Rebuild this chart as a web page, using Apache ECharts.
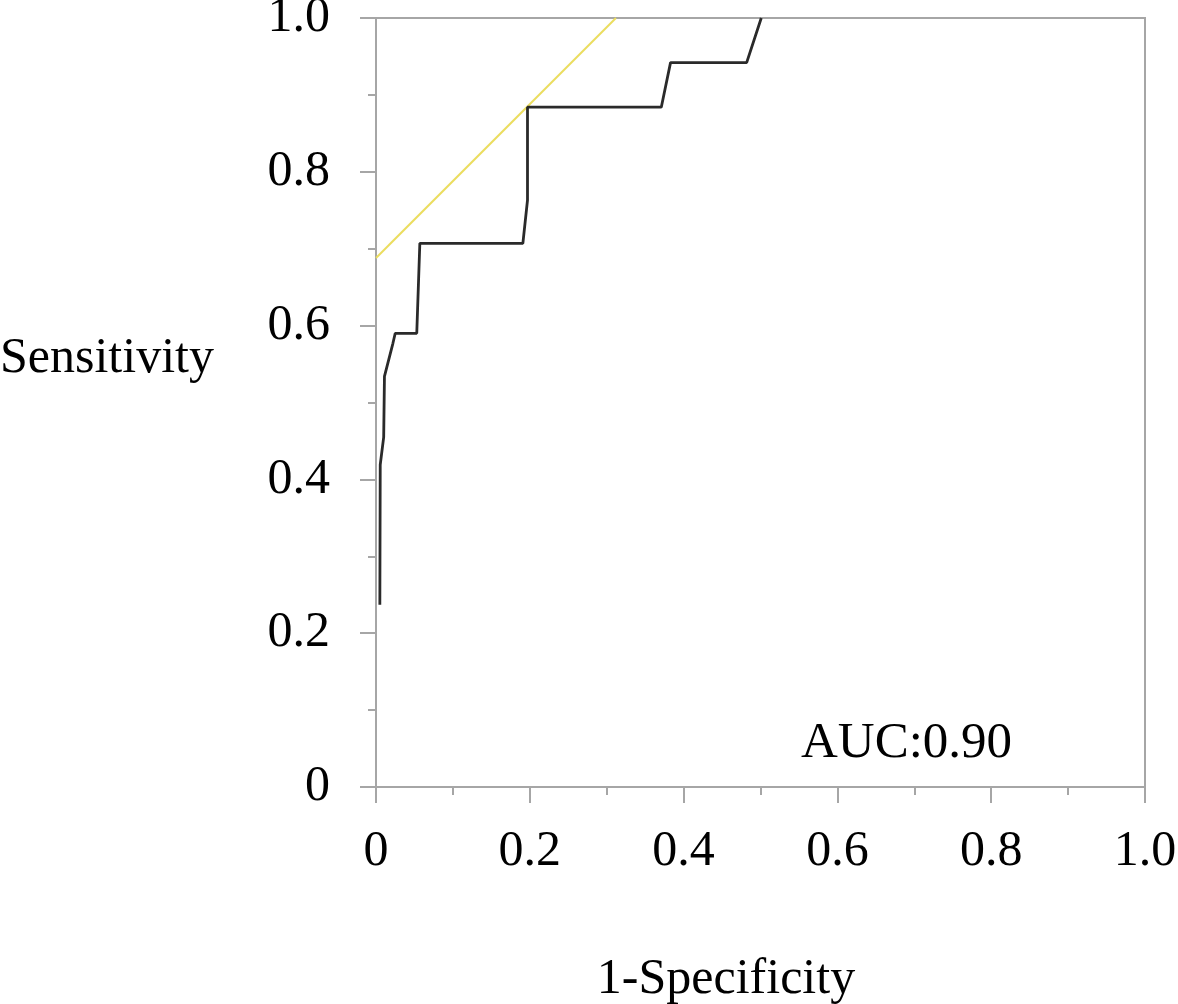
<!DOCTYPE html>
<html>
<head>
<meta charset="utf-8">
<script src="https://cdn.jsdelivr.net/npm/echarts@6/dist/echarts.min.js"></script>
<style>html,body{margin:0;padding:0;background:#fff;}#c{width:1178px;height:1004px;}</style>
</head>
<body>
<div id="c"></div>
<script>
// ROC curve points (1-Specificity, Sensitivity)
const rocX = [0.005, 0.0055, 0.010, 0.011, 0.022, 0.025, 0.053, 0.057, 0.191, 0.197, 0.197, 0.371, 0.383, 0.482, 0.501];
const rocY = [0.237, 0.419, 0.455, 0.534, 0.577, 0.590, 0.590, 0.707, 0.707, 0.763, 0.884, 0.884, 0.942, 0.942, 1.000];
// Tangent (Youden) reference line
const refX = [0, 0.312];
const refY = [0.688, 1.0];
const tickLabels = ['0', '0.2', '0.4', '0.6', '0.8', '1.0'];
const aucText = 'AUC:0.90';
const xName = '1-Specificity';
const yName = 'Sensitivity';

const font = '"Liberation Serif", "Times New Roman", serif';
const axisGrey = '#a6a6a6';
const fmt = v => tickLabels[Math.round(v * 5)] || '';

const chart = echarts.init(document.getElementById('c'), null, {renderer: 'canvas'});
const axisCommon = {
  type: 'value', min: 0, max: 1, interval: 0.2,
  axisLine: {show: true, lineStyle: {color: axisGrey, width: 2}},
  axisTick: {show: true, length: 16, lineStyle: {color: axisGrey, width: 2}},
  minorTick: {show: true, splitNumber: 2, length: 8, lineStyle: {color: axisGrey, width: 2}},
  splitLine: {show: false},
  axisLabel: {formatter: fmt, color: '#000', fontFamily: font, fontSize: 50}
};
chart.setOption({
  animation: false,
  backgroundColor: '#fff',
  grid: {left: 376, top: 18, width: 769, height: 769, outerBoundsMode: 'none', containLabel: false,
         show: true, borderColor: axisGrey, borderWidth: 2, backgroundColor: 'transparent'},
  xAxis: Object.assign({}, axisCommon, {axisLabel: Object.assign({}, axisCommon.axisLabel, {margin: 40})}),
  yAxis: Object.assign({}, axisCommon, {axisLabel: Object.assign({}, axisCommon.axisLabel, {margin: 46})}),
  graphic: [
    {type: 'text', left: 0, top: 334, style: {text: yName, font: '50px ' + font, fill: '#000'}},
    {type: 'text', x: 726, y: 955, style: {text: xName, font: '50px ' + font, fill: '#000', align: 'center'}},
    {type: 'text', x: 801, y: 718, style: {text: aucText, font: '51px ' + font, fill: '#000'}}
  ],
  series: [
    {type: 'line', data: refX.map((x, i) => [x, refY[i]]), symbol: 'none',
     lineStyle: {color: '#ebdd5e', width: 2}, silent: true},
    {type: 'line', data: rocX.map((x, i) => [x, rocY[i]]), symbol: 'none',
     lineStyle: {color: '#2a2a2a', width: 2.8}, silent: true}
  ]
});
</script>
</body>
</html>
